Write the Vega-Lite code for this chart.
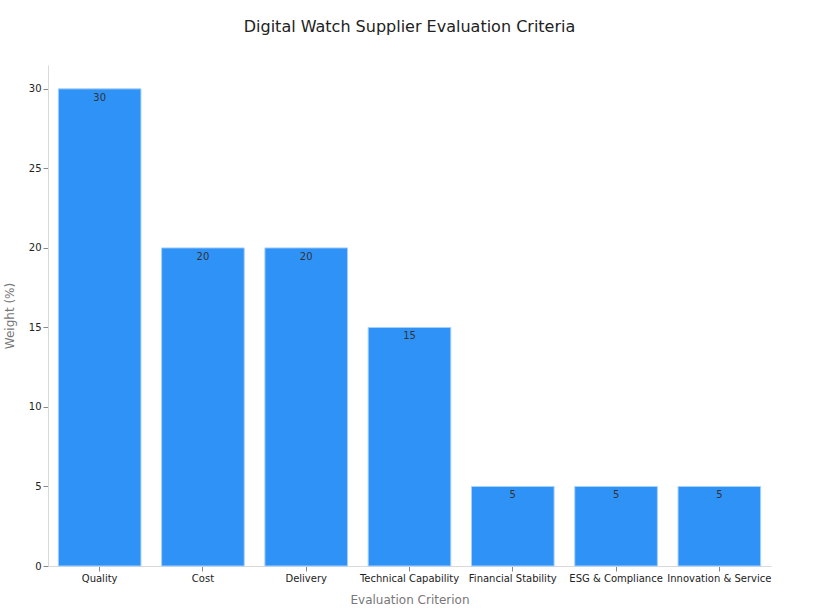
{
  "$schema": "https://vega.github.io/schema/vega-lite/v6.json",
  "autosize": "none",
  "width": 723,
  "height": 501,
  "padding": {"left": 48, "top": 65, "right": 48, "bottom": 48},
  "background": "white",
  "title": {
    "text": "Digital Watch Supplier Evaluation Criteria",
    "font": "DejaVu Sans",
    "fontSize": 16,
    "fontWeight": "normal",
    "color": "#222222",
    "offset": 30
  },
  "config": {
    "view": {"stroke": null},
    "font": "DejaVu Sans",
    "axis": {
      "grid": false,
      "domainColor": "#d9d9d9",
      "tickColor": "#888888",
      "labelColor": "#222222",
      "labelFontSize": 10,
      "titleFontSize": 12,
      "titleFontWeight": "normal",
      "titleColor": "#777777"
    }
  },
  "data": {
    "values": [
      {"criterion": "Quality", "weight": 30},
      {"criterion": "Cost", "weight": 20},
      {"criterion": "Delivery", "weight": 20},
      {"criterion": "Technical Capability", "weight": 15},
      {"criterion": "Financial Stability", "weight": 5},
      {"criterion": "ESG & Compliance", "weight": 5},
      {"criterion": "Innovation & Service", "weight": 5}
    ]
  },
  "encoding": {
    "x": {
      "field": "criterion",
      "type": "nominal",
      "sort": null,
      "title": "Evaluation Criterion",
      "scale": {"paddingInner": 0.2, "paddingOuter": 0.1},
      "axis": {"labelAngle": 0, "titlePadding": 11}
    },
    "y": {
      "field": "weight",
      "type": "quantitative",
      "title": "Weight (%)",
      "scale": {"domain": [0, 31.5], "nice": false},
      "axis": {"values": [0, 5, 10, 15, 20, 25, 30], "titlePadding": 12}
    }
  },
  "layer": [
    {
      "mark": {"type": "bar", "color": "#2f92f7", "stroke": "#a8d0fa", "strokeWidth": 1}
    },
    {
      "mark": {"type": "text", "baseline": "top", "dy": 4, "fontSize": 10, "color": "#333333"},
      "encoding": {"text": {"field": "weight", "type": "quantitative"}}
    }
  ]
}
